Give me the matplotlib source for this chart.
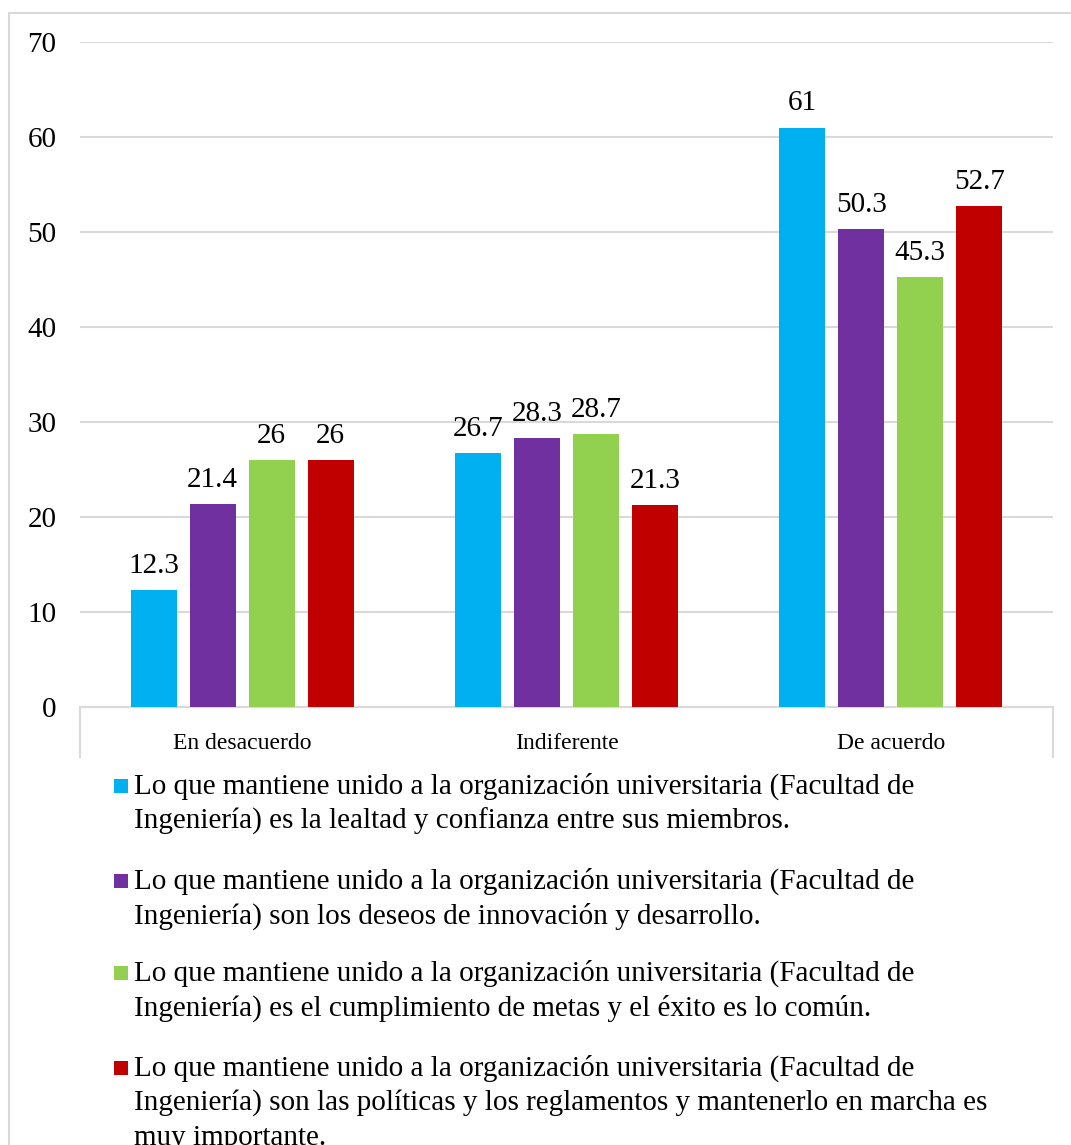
import matplotlib
matplotlib.use("Agg")
import matplotlib.pyplot as plt
from matplotlib.patches import Rectangle
import numpy as np

categories = ["En desacuerdo", "Indiferente", "De acuerdo"]
series_labels = [
    "Lo que mantiene unido a la organización universitaria (Facultad de\nIngeniería) es la lealtad y confianza entre sus miembros.",
    "Lo que mantiene unido a la organización universitaria (Facultad de\nIngeniería) son los deseos de innovación y desarrollo.",
    "Lo que mantiene unido a la organización universitaria (Facultad de\nIngeniería) es el cumplimiento de metas y el éxito es lo común.",
    "Lo que mantiene unido a la organización universitaria (Facultad de\nIngeniería) son las políticas y los reglamentos y mantenerlo en marcha es\nmuy importante.",
]
values_s1 = [12.3, 26.7, 61]
values_s2 = [21.4, 28.3, 50.3]
values_s3 = [26, 28.7, 45.3]
values_s4 = [26, 21.3, 52.7]
label_s1 = ["12.3", "26.7", "61"]
label_s2 = ["21.4", "28.3", "50.3"]
label_s3 = ["26", "28.7", "45.3"]
label_s4 = ["26", "21.3", "52.7"]
yticks = [0, 10, 20, 30, 40, 50, 60, 70]

series = [values_s1, values_s2, values_s3, values_s4]
series_text = [label_s1, label_s2, label_s3, label_s4]
colors = ["#00B0F0", "#7030A0", "#92D050", "#C00000"]

plt.rcParams['font.family'] = ['Liberation Serif', 'DejaVu Serif']

W, H = 1071, 1145
fig = plt.figure(figsize=(W / 100, H / 100), dpi=100)

# outer frame
fig.patches.append(Rectangle((9 / W, -0.1), 1.5, (H - 13) / H + 0.1, transform=fig.transFigure,
                             fill=False, edgecolor="#d9d9d9", linewidth=1.5, zorder=0))

ax_l, ax_r, ax_t, ax_b = 80, 1053, 42, 707
ax = fig.add_axes([ax_l / W, (H - ax_b) / H, (ax_r - ax_l) / W, (ax_b - ax_t) / H])

x = np.arange(len(categories))
step = 0.182
width = 0.142
offsets = (np.arange(4) - 1.5) * step
for i, (vals, txt, c) in enumerate(zip(series, series_text, colors)):
    bars = ax.bar(x + offsets[i], vals, width=width, color=c, zorder=3)
    for b, t in zip(bars, txt):
        ax.annotate(t, (b.get_x() + b.get_width() / 2, b.get_height()), xytext=(0, 8),
                    textcoords="offset points", ha="center", va="bottom", fontsize=21, color="#000000")

ax.set_xlim(-0.5, 2.5)
ax.set_ylim(0, 70)
ax.set_yticks(yticks)
ax.set_yticklabels([str(v) for v in yticks], fontsize=21)
ax.tick_params(axis='y', length=0, pad=17)
ax.set_xticks([])
for s in ["top", "right", "left"]:
    ax.spines[s].set_visible(False)
ax.spines["bottom"].set_color("#d9d9d9")
ax.spines["bottom"].set_linewidth(1.5)
ax.grid(axis='y', color="#d9d9d9", linewidth=1.5, zorder=0)
ax.set_axisbelow(True)

# category labels and outer boundary ticks
for xi, cat in zip(x, categories):
    ax.annotate(cat, (xi, 0), xytext=(0, -26), textcoords="offset points", ha="center",
                va="center", fontsize=17, annotation_clip=False)
for xb in [-0.5, 2.5]:
    ax.plot([xb, xb], [0, -50 / 9.5], color="#d9d9d9", linewidth=1.5, clip_on=False, zorder=2)

# legend
entry_y = [786, 881, 973, 1068]
line_h = 35
for lab, c, ey in zip(series_labels, colors, entry_y):
    fig.patches.append(Rectangle((114 / W, (H - ey - 7) / H), 14 / W, 14 / H,
                                 transform=fig.transFigure, facecolor=c, edgecolor="none"))
    for k, line in enumerate(lab.split("\n")):
        fig.text(134 / W, (H - (ey + k * line_h)) / H, line, fontsize=21, ha="left", va="center")

fig.savefig("out.png", dpi=100)
